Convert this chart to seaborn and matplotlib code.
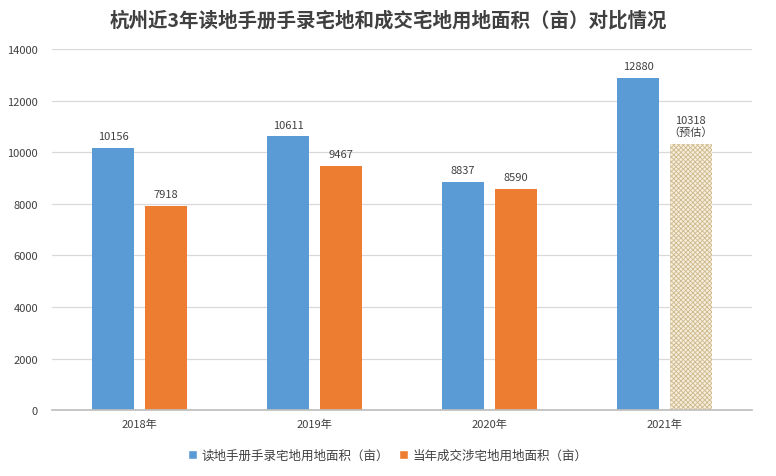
import matplotlib
matplotlib.use("Agg")
import matplotlib.pyplot as plt
import seaborn as sns
import pandas as pd
from matplotlib.patches import Patch

years = ["2018年", "2019年", "2020年", "2021年"]
handbook = [10156, 10611, 8837, 12880]
traded = [7918, 9467, 8590, 10318]
series_names = ["读地手册手录宅地用地面积（亩）", "当年成交涉宅地用地面积（亩）"]
labels_handbook = ["10156", "10611", "8837", "12880"]
labels_traded = ["7918", "9467", "8590", "10318\n（预估）"]
title = "杭州近3年读地手册手录宅地和成交宅地用地面积（亩）对比情况"

sns.set_theme(style="white")
plt.rcParams['font.family'] = ['Noto Sans CJK SC', 'DejaVu Sans']
plt.rcParams['hatch.linewidth'] = 0.6

df = pd.DataFrame({
    "year": years * 2,
    "value": handbook + traded,
    "series": [series_names[0]] * 4 + [series_names[1]] * 4,
})

blue = "#5B9BD5"
orange = "#ED7D31"

fig = plt.figure(figsize=(7.76, 4.77), dpi=100)
ax = fig.add_axes([0.067, 0.138, 0.902, 0.757])
sns.barplot(data=df, x="year", y="value", hue="series", palette=[blue, orange],
            width=0.6, gap=0.2, ax=ax, legend=False, saturation=1, linewidth=0)

ax.set_ylim(0, 14000)
ax.set_yticks(range(0, 14001, 2000))
ax.grid(axis="y", color="#D9D9D9", linewidth=0.9)
ax.set_axisbelow(True)
for s in ["top", "right", "left"]:
    ax.spines[s].set_visible(False)
ax.spines["bottom"].set_color("#BFBFBF")
ax.tick_params(axis="y", length=0, labelsize=8, colors="#404040", pad=10)
ax.tick_params(axis="x", length=0, labelsize=8, colors="#404040", pad=6)
ax.set_xlabel("")
ax.set_ylabel("")

# Hatch the estimated 2021 bar
bars = [p for p in ax.patches]
est = bars[7]
est.set_facecolor("#F6EEDC")
est.set_edgecolor("#CDB98C")
est.set_hatch("xxxxxxx")
est.set_linewidth(0)

for cont, labs in zip(ax.containers, [labels_handbook, labels_traded]):
    ax.bar_label(cont, labels=labs, padding=5, fontsize=8, color="#404040")

fig.suptitle(title, x=0.5, y=0.978, fontsize=14, fontweight="bold", color="#404040")

handles = [Patch(facecolor=blue), Patch(facecolor=orange)]
fig.legend(handles, series_names, loc="center", bbox_to_anchor=(0.5, 0.043), ncol=2,
           frameon=False, fontsize=9, handlelength=0.7, handleheight=0.7,
           handletextpad=0.4, columnspacing=0.8, labelcolor="#404040")

fig.savefig("out.png", dpi=100)
